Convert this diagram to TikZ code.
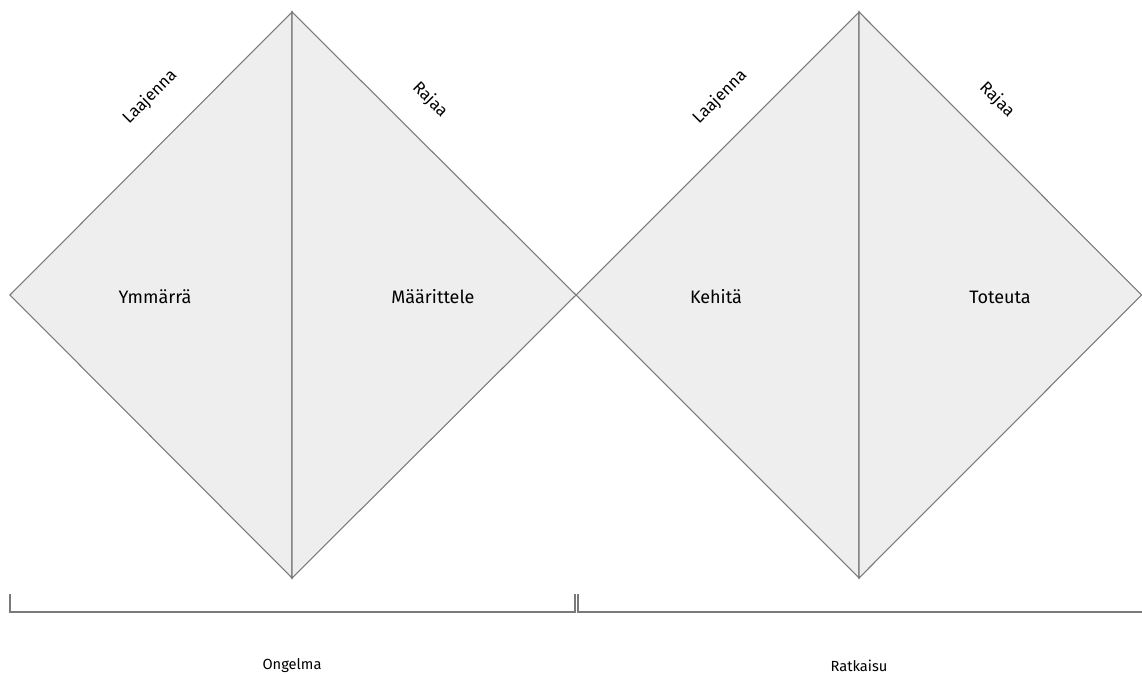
\documentclass[tikz,border=0pt]{standalone}
\usepackage{fontspec}
\setmainfont{Fira Sans}
\usetikzlibrary{positioning}
\definecolor{panel}{HTML}{EFEEEE}
\definecolor{edge}{HTML}{7A7A7A}

\begin{document}
\begin{tikzpicture}[
  x=0.75pt, y=-0.75pt,
  font=\fontsize{13.5}{15}\selectfont,
  half/.style={fill=panel, draw=edge, line width=0.8pt, line join=miter},
  slope/.style={font=\fontsize{12.5}{14}\selectfont},
  tag/.style={font=\fontsize{11}{13}\selectfont},
  brace/.style={draw=edge, line width=0.9pt}
]
\useasboundingbox (0,0) rectangle (1142,674);

% problem diamond
\coordinate (pL) at (10,295);
\coordinate (pT) at (292,12);
\coordinate (pM) at (576,295);
\coordinate (pB) at (292,578);
% solution diamond
\coordinate (sT) at (859,12);
\coordinate (sR) at (1141.6,295);
\coordinate (sB) at (859,578);

\draw[half] (pL) -- (pT) -- (pB) -- cycle;
\draw[half] (pT) -- (pM) -- (pB) -- cycle;
\draw[half] (pM) -- (sT) -- (sB) -- cycle;
\draw[half] (sT) -- (sR) -- (sB) -- cycle;

\node (ymm) at (155,297) {Ymmärrä};
\node (maar) at (433,297) {Määrittele};
\node (keh) at (716,297) {Kehitä};
\node (tot) at (1000,297) {Toteuta};

\node[slope, rotate=45] (laaj1) at (150,97) {Laajenna};
\node[slope, rotate=-45] (raj1) at (430,100) {Rajaa};
\node[slope, rotate=45] (laaj2) at (720,97) {Laajenna};
\node[slope, rotate=-45] (raj2) at (997,100) {Rajaa};

% brackets
\coordinate (b1a) at (10,594);
\coordinate (b1b) at (575,594);
\coordinate (b2a) at (578,594);
\coordinate (b2b) at (1142,612);
\draw[brace] (b1a) |- (b1b |- 0,612) -- (b1b);
\draw[brace] (b2a) |- (b2b);

\node[tag] (prob) at (292,666) {Ongelma};
\node[tag] (sol) at (859,666) {Ratkaisu};

\end{tikzpicture}
\end{document}
